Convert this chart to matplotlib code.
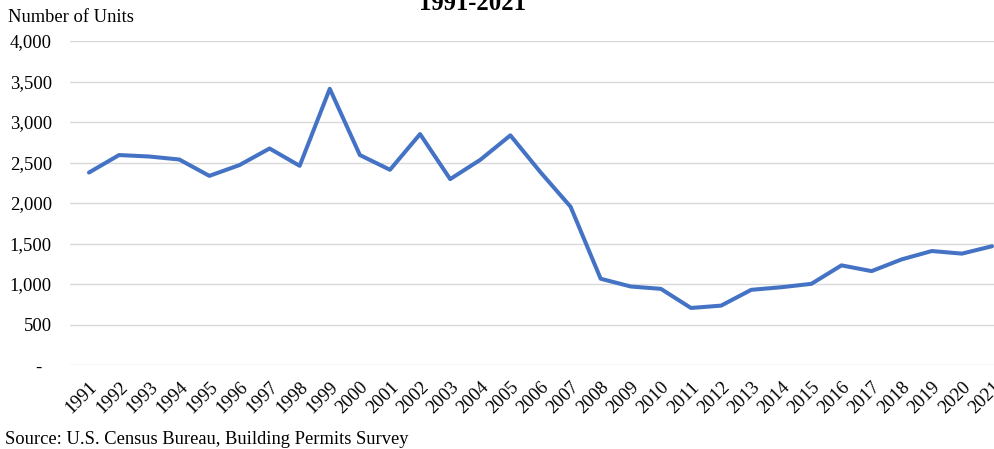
import matplotlib
matplotlib.use("Agg")
import matplotlib.pyplot as plt

years = [str(y) for y in range(1991, 2022)]
units = [2376, 2592, 2574, 2537, 2335, 2468, 2673, 2459, 3410, 2592,
         2410, 2851, 2295, 2533, 2835, 2380, 1954, 1065, 969, 940,
         704, 733, 928, 960, 1002, 1230, 1159, 1304, 1407, 1375, 1466]
yticks = [0, 500, 1000, 1500, 2000, 2500, 3000, 3500, 4000]
ytick_labels = ["-  ", "500", "1,000", "1,500", "2,000", "2,500", "3,000", "3,500", "4,000"]

plt.rcParams['font.family'] = ['Liberation Serif', 'DejaVu Serif']

fig = plt.figure(figsize=(9.95, 4.49), dpi=100)
ax = fig.add_axes([70/995, 1-365/449, 925/995, (365-41)/449])

x = list(range(len(years)))
ax.plot(x, units, color='#4472C4', linewidth=2.9, solid_joinstyle='round', solid_capstyle='round', zorder=3)

ax.set_ylim(0, 4000)
ax.set_xlim(-0.63, 30.1)
ax.set_yticks(yticks)
ax.set_yticklabels(ytick_labels, fontsize=13.4)
ax.set_xticks(x)
ax.set_xticklabels(years, fontsize=13.3, rotation=45, ha='right', va='top', rotation_mode='anchor')
ax.tick_params(axis='y', length=0, pad=13)
ax.tick_params(axis='x', length=0, pad=10)
ax.grid(axis='y', color='#D9D9D9', linewidth=1.0, zorder=0)
for s in ax.spines.values():
    s.set_visible(False)

fig.text(473/995, 1-9.5/449, "1991-2021", fontsize=17.8, fontweight='bold', ha='center', va='baseline')
fig.text(8/995, 1-22/449, "Number of Units", fontsize=13.3, ha='left', va='baseline')
fig.text(5/995, 1-444/449, "Source: U.S. Census Bureau, Building Permits Survey", fontsize=13.3, ha='left', va='baseline')

fig.savefig("out.png", dpi=100)
